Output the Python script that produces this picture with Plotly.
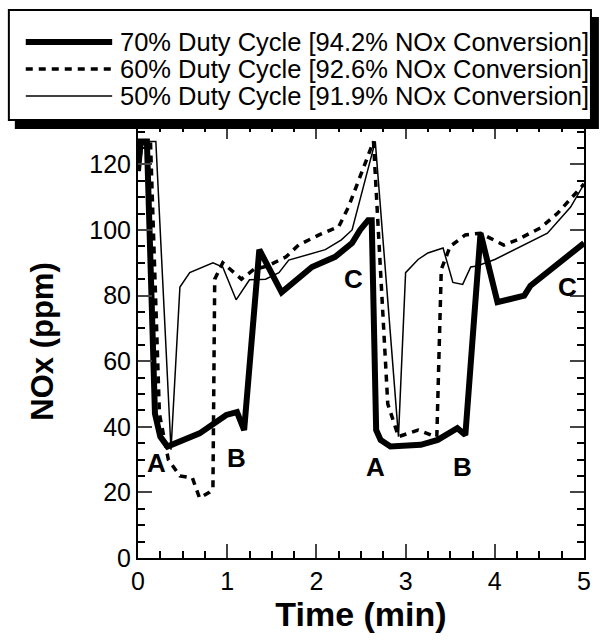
import plotly.graph_objects as go

# ---------------- data ----------------
t70 = [0.0, 0.03, 0.10, 0.19, 0.25, 0.33, 0.69, 0.99, 1.11, 1.19, 1.36, 1.61, 1.95, 2.21, 2.40, 2.49, 2.58, 2.62,
       2.67, 2.72, 2.83, 3.17, 3.36, 3.58, 3.67, 3.84, 4.03, 4.33, 4.40, 5.0]
y70 = [118, 127, 127, 44, 37, 34, 38, 43.6, 44.5, 39, 94, 81, 88.7, 91.8, 96, 100, 103, 103,
       39, 36, 34, 34.5, 36, 39.6, 37.5, 99, 78, 80, 83, 96]

t60 = [0.0, 0.05, 0.14, 0.24, 0.34, 0.47, 0.61, 0.69, 0.80, 0.84, 0.86, 0.95, 1.16, 1.30, 1.45, 1.66, 1.80,
       2.03, 2.25, 2.36, 2.64, 2.80, 2.92, 3.14, 3.33, 3.35, 3.40, 3.50, 3.67, 3.84, 4.10, 4.25, 4.51, 4.70, 5.0]
y60 = [118, 127, 127, 44, 30, 25, 24.4, 18.3, 20, 21, 85, 90, 85, 88, 89, 91.8, 95.4,
       98.5, 101, 107, 127, 47, 37, 39, 37, 37, 88, 95, 98.5, 99, 95.4, 97, 100.6, 105, 114]

t50 = [0.0, 0.06, 0.20, 0.37, 0.47, 0.58, 0.84, 0.95, 1.10, 1.25, 1.43, 1.58, 1.69, 2.10, 2.28, 2.40,
       2.66, 2.92, 3.00, 3.14, 3.25, 3.42, 3.53, 3.64, 3.73, 3.80, 4.00, 4.29, 4.59, 4.85, 5.0]
y50 = [118, 127, 127, 33, 82.6, 87, 90, 88.7, 78.7, 84.8, 85, 87, 90.8, 94, 97, 100,
       127, 37, 87, 91, 93, 94.5, 84, 83.4, 88.7, 89, 91, 95, 99, 107, 114]

series_names = ["70% Duty Cycle [94.2% NOx Conversion]",
                "60% Duty Cycle [92.6% NOx Conversion]",
                "50% Duty Cycle [91.9% NOx Conversion]"]

label_text = ["A", "B", "C", "A", "B", "C"]
label_t = [0.21, 1.10, 2.42, 2.66, 3.64, 4.81]
label_y = [29, 30.5, 85, 27.7, 27.7, 82.6]

x_ticks = [0, 1, 2, 3, 4, 5]
y_ticks = [0, 20, 40, 60, 80, 100, 120]

# ---------------- figure ----------------
W, H = 603, 642
ML, MR, MT, MB = 138, 16, 125, 84
FONT = "Liberation Sans, Arial, sans-serif"

styles = [dict(color="black", width=6),
          dict(color="black", width=3.5, dash="7px,6px"),
          dict(color="black", width=1.5)]

fig = go.Figure()
for (tx, ty), name, st in zip([(t70, y70), (t60, y60), (t50, y50)], series_names, styles):
    fig.add_trace(go.Scatter(x=tx, y=ty, mode="lines", name=name, line=st, showlegend=False))

for txt, tx, ty in zip(label_text, label_t, label_y):
    fig.add_annotation(x=tx, y=ty, text=f"<b>{txt}</b>", showarrow=False,
                       font=dict(family=FONT, size=26, color="black"))

pw = W - ML - MR
ph = H - MT - MB


def px(x):
    return (x - ML) / pw


def py(y):
    return (H - MB - y) / ph


shapes = []
# legend shadow + box
shapes.append(dict(type="rect", xref="paper", yref="paper", x0=px(14), x1=px(602), y0=py(129), y1=py(17),
                   fillcolor="black", line=dict(width=0), layer="above"))
shapes.append(dict(type="rect", xref="paper", yref="paper", x0=px(8), x1=px(594), y0=py(120), y1=py(10),
                   fillcolor="white", line=dict(color="black", width=2), layer="above"))
rows = [42, 69, 96]
for r, st in zip(rows, styles):
    shapes.append(dict(type="line", xref="paper", yref="paper", x0=px(25), x1=px(112), y0=py(r), y1=py(r),
                       line=st, layer="above"))
for r, name in zip(rows, series_names):
    fig.add_annotation(xref="paper", yref="paper", x=px(118), y=py(r), xanchor="left", yanchor="middle",
                       text=name, showarrow=False, font=dict(family=FONT, size=25.5, color="black"))

fig.update_layout(
    width=W, height=H,
    margin=dict(l=ML, r=MR, t=MT, b=MB),
    paper_bgcolor="white", plot_bgcolor="white",
    shapes=shapes,
    font=dict(family=FONT, color="black"),
)
fig.update_xaxes(range=[0, 5], tickvals=x_ticks, ticks="inside", ticklen=14, tickwidth=2,
                 showline=True, linecolor="black", linewidth=2, mirror="ticks", showgrid=False, zeroline=False,
                 tickfont=dict(size=25, family=FONT),
                 minor=dict(dtick=0.25, ticks="inside", ticklen=7, tickwidth=2, tickcolor="black"),
                 title=dict(text="<b>Time (min)</b>", font=dict(size=34, family=FONT), standoff=4))
fig.update_yaxes(range=[0, 132], tickvals=y_ticks, ticks="inside", ticklen=14, tickwidth=2,
                 showline=True, linecolor="black", linewidth=2, mirror="ticks", showgrid=False, zeroline=False,
                 tickfont=dict(size=25, family=FONT),
                 minor=dict(dtick=5, ticks="inside", ticklen=7, tickwidth=2, tickcolor="black"),
                 title=dict(text="<b>NOx (ppm)</b>", font=dict(size=31, family=FONT), standoff=26))

fig.write_html("out.html")
